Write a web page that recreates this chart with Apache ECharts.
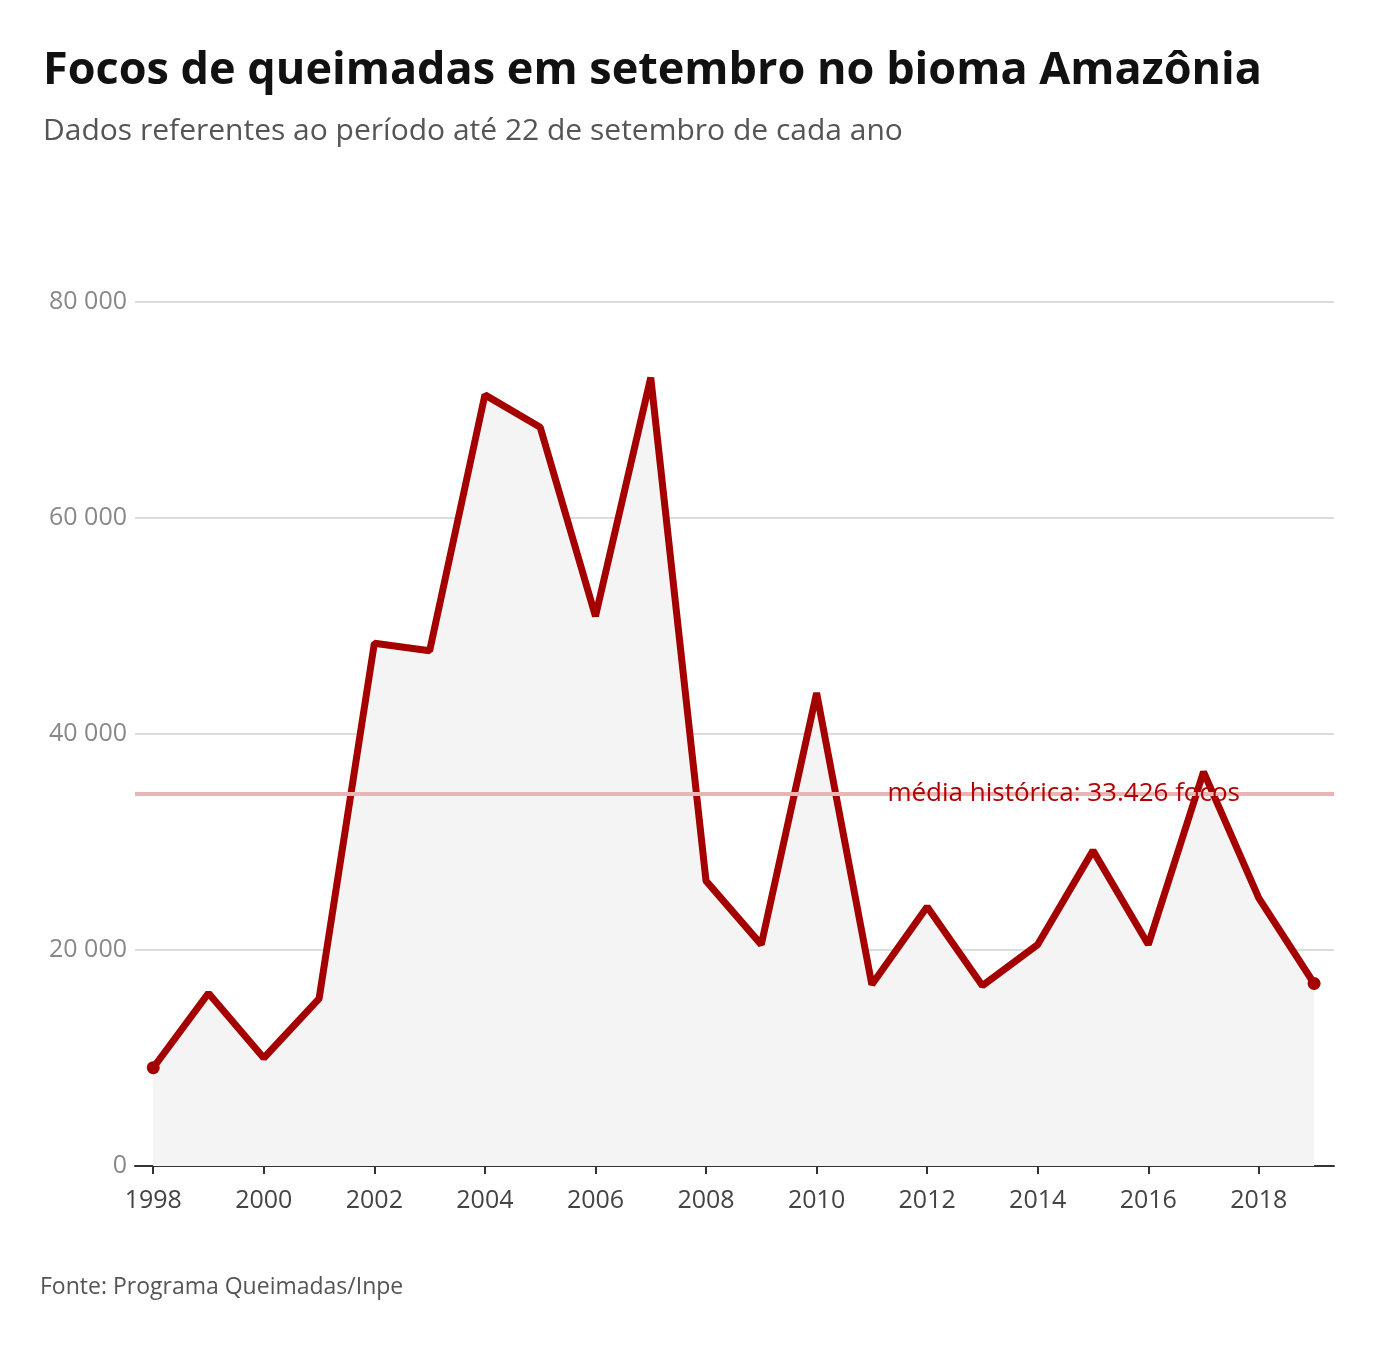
<!DOCTYPE html>
<html>
<head>
<meta charset="utf-8">
<script src="https://cdn.jsdelivr.net/npm/echarts@6/dist/echarts.min.js"></script>
<style>
  html, body { margin: 0; padding: 0; background: #fff; }
  #container { width: 1380px; height: 1354px; }
</style>
</head>
<body>
<div id="container"></div>
<script>
  var years = [1998, 1999, 2000, 2001, 2002, 2003, 2004, 2005, 2006, 2007, 2008,
    2009, 2010, 2011, 2012, 2013, 2014, 2015, 2016, 2017, 2018, 2019];
  var focos = [9100, 16000, 10000, 15500, 48400, 47700, 71400, 68400, 50900, 73000, 26400,
    20500, 43800, 16800, 24000, 16700, 20500, 29200, 20500, 36500, 24800, 16900];
  var mediaLine = 34500;
  var xTicks = [1998, 2000, 2002, 2004, 2006, 2008, 2010, 2012, 2014, 2016, 2018];

  var dom = document.getElementById('container');
  var myChart = echarts.init(dom, null, { renderer: 'canvas' });

  var pairs = years.map(function (y, i) { return [y, focos[i]]; });
  var lineData = years.map(function (y, i) {
    var end = i === 0 || i === years.length - 1;
    return { value: [y, focos[i]], symbolSize: end ? 13 : 0 };
  });

  var option = {
    backgroundColor: '#fff',
    title: {
      text: 'Focos de queimadas em setembro no bioma Amazônia',
      subtext: 'Dados referentes ao período até 22 de setembro de cada ano',
      left: 38,
      top: 44,
      itemGap: 22,
      textStyle: { fontFamily: 'Open Sans', fontSize: 45, fontWeight: 'bold', color: '#111', letterSpacing: -1.6 },
      subtextStyle: { fontFamily: 'Open Sans', fontSize: 30, color: '#555' }
    },
    graphic: [{
      type: 'text', left: 40, top: 1276,
      style: { text: 'Fonte: Programa Queimadas/Inpe', font: '23px "Open Sans"', fill: '#555', letterSpacing: -0.5 }
    }],
    grid: { left: 135, right: 46, top: 302, bottom: 188 },
    xAxis: {
      type: 'value',
      min: 1997.67,
      max: 2019.36,
      splitLine: { show: false },
      axisLine: { lineStyle: { color: '#333', width: 2 } },
      axisTick: { show: true, customValues: xTicks, length: 8, lineStyle: { color: '#333', width: 2 } },
      axisLabel: {
        customValues: xTicks, fontFamily: 'Open Sans', fontSize: 25, color: '#444', margin: 22,
        formatter: function (v) { return String(v); }
      }
    },
    yAxis: {
      type: 'value',
      min: 0,
      max: 80000,
      interval: 20000,
      axisLine: { show: false },
      axisTick: { show: false },
      splitLine: { lineStyle: { color: '#d0d0d0', width: 1.5 } },
      axisLabel: {
        fontFamily: 'Open Sans', fontSize: 25, color: '#888', margin: 8,
        formatter: function (v) { return v === 0 ? '0' : (v / 1000) + ' 000'; }
      }
    },
    series: [{
      type: 'line',
      data: pairs,
      symbol: 'none',
      lineStyle: { width: 0 },
      areaStyle: { color: '#f4f4f4', opacity: 1 },
      silent: true,
      z: 1
    }, {
      type: 'line',
      data: [],
      z: 2,
      markLine: {
        silent: true,
        symbol: 'none',
        lineStyle: { color: '#e8b4b4', type: 'solid', width: 4 },
        label: {
          position: 'insideEnd',
          distance: 94,
          formatter: 'média histórica: 33.426 focos',
          fontFamily: 'Open Sans', fontSize: 26, color: '#b00000', letterSpacing: -0.3
        },
        data: [{ yAxis: mediaLine }]
      }
    }, {
      type: 'line',
      data: lineData,
      symbol: 'circle',
      showAllSymbol: true,
      lineStyle: { color: '#a50000', width: 7 },
      itemStyle: { color: '#a50000' },
      z: 3
    }]
  };

  myChart.setOption(option);
  window.addEventListener('resize', myChart.resize);
</script>
</body>
</html>
